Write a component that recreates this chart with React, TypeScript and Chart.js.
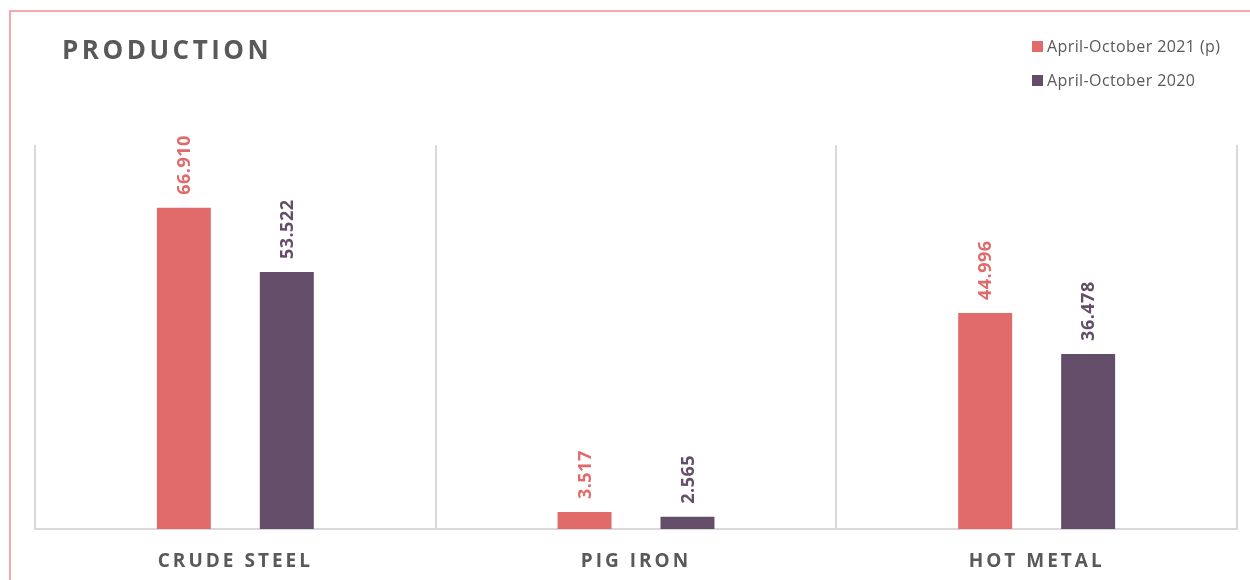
import React, { useEffect, useRef } from "react";
import { Chart, registerables } from "chart.js";

Chart.register(...registerables);

const chartTitle = "PRODUCTION";
const categories = ["CRUDE STEEL", "PIG IRON", "HOT METAL"];
const seriesNames = ["April-October 2021 (p)", "April-October 2020"];
const values2021 = [66.91, 3.517, 44.996];
const values2020 = [53.522, 2.565, 36.478];
const seriesColors = ["#E16A6A", "#644D68"];
const yMin = 0;
const yMax = 80;

const TEXT_GRAY = "#595959";
const GRID_GRAY = "#D9D9D9";
const FONT = "'Open Sans', 'Noto Sans', sans-serif";

const valueLabelsPlugin = {
  id: "valueLabels",
  beforeDraw(chart: any) {
    chart.ctx.letterSpacing = "3px";
  },
  afterDatasetsDraw(chart: any) {
    const ctx = chart.ctx as CanvasRenderingContext2D;
    chart.data.datasets.forEach((ds: any, di: number) => {
      const meta = chart.getDatasetMeta(di);
      meta.data.forEach((bar: any, i: number) => {
        const v = ds.data[i] as number;
        ctx.save();
        (ctx as any).letterSpacing = "0.5px";
        ctx.translate(bar.x + 1, bar.y - 13);
        ctx.rotate(-Math.PI / 2);
        ctx.font = `bold 18px ${FONT}`;
        ctx.fillStyle = ds.backgroundColor;
        ctx.textAlign = "left";
        ctx.textBaseline = "middle";
        ctx.fillText(v.toFixed(3), 0, 0);
        ctx.restore();
      });
    });
  },
  afterDraw(chart: any) {
    chart.ctx.letterSpacing = "0px";
  },
};

export default function App() {
  const canvasRef = useRef<HTMLCanvasElement>(null);

  useEffect(() => {
    const chart = new Chart(canvasRef.current as HTMLCanvasElement, {
      type: "bar",
      data: {
        labels: categories,
        datasets: [
          {
            label: seriesNames[0],
            data: values2021,
            backgroundColor: seriesColors[0],
            categoryPercentage: 0.514,
            barPercentage: 0.524,
          },
          {
            label: seriesNames[1],
            data: values2020,
            backgroundColor: seriesColors[1],
            categoryPercentage: 0.514,
            barPercentage: 0.524,
          },
        ],
      },
      options: {
        animation: false,
        responsive: false,
        maintainAspectRatio: false,
        devicePixelRatio: 1,
        layout: { padding: { top: 145, left: 35, right: 13, bottom: 0 } },
        plugins: {
          legend: { display: false },
          tooltip: { enabled: false },
          title: { display: false },
        },
        scales: {
          x: {
            afterFit: (scale: any) => {
              scale.height = 51;
            },
            grid: {
              display: true,
              offset: true,
              drawTicks: false,
              color: GRID_GRAY,
              lineWidth: 2,
            },
            border: { display: true, color: GRID_GRAY, width: 2 },
            ticks: {
              color: TEXT_GRAY,
              padding: 21,
              font: { family: FONT, size: 19, weight: "bold" },
            },
          },
          y: {
            display: false,
            min: yMin,
            max: yMax,
            grid: { display: false },
          },
        },
      },
      plugins: [valueLabelsPlugin],
    } as any);
    return () => chart.destroy();
  }, []);

  return (
    <div
      style={{
        position: "fixed",
        left: 0,
        top: 0,
        width: 1250,
        height: 580,
        overflow: "hidden",
        background: "#fff",
      }}
    >
      <div
        style={{
          position: "absolute",
          left: 9,
          top: 10,
          width: 1400,
          height: 800,
          border: "2px solid #F4AAAA",
          boxSizing: "border-box",
        }}
      />
      <canvas
        ref={canvasRef}
        width={1250}
        height={580}
        style={{ position: "absolute", left: 0, top: 0, width: 1250, height: 580 }}
      />
      <div
        style={{
          position: "absolute",
          left: 62,
          top: 36,
          fontFamily: FONT,
          fontWeight: 700,
          fontSize: 26,
          lineHeight: "26px",
          letterSpacing: "3.5px",
          color: TEXT_GRAY,
          whiteSpace: "nowrap",
        }}
      >
        {chartTitle}
      </div>
      {seriesNames.map((name, i) => (
        <div
          key={name}
          style={{
            position: "absolute",
            left: 1032,
            top: 36 + i * 34,
            height: 20,
            display: "flex",
            alignItems: "center",
            fontFamily: FONT,
            fontSize: 16,
            letterSpacing: "0.4px",
            color: TEXT_GRAY,
            whiteSpace: "nowrap",
          }}
        >
          <span
            style={{
              display: "inline-block",
              width: 11,
              height: 11,
              background: seriesColors[i],
              marginRight: 4,
            }}
          />
          <span>{name}</span>
        </div>
      ))}
    </div>
  );
}
